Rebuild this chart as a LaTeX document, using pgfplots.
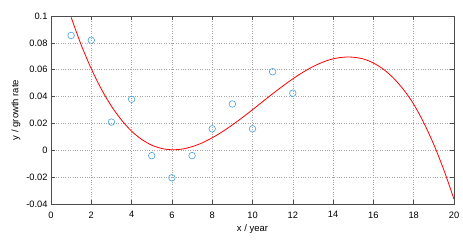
\documentclass[border=0pt]{standalone}
\usepackage{pgfplots}
\pgfplotsset{compat=1.18}
\usepackage{fontspec}
\setmainfont{Liberation Sans}
\definecolor{ptblue}{RGB}{70,160,220}
\begin{document}
\begin{tikzpicture}[x=1pt,y=1pt]
\path[use as bounding box] (-51,-38) rectangle (412,204);
\begin{axis}[
  at={(0,0)}, anchor=south west,
  scale only axis, width=403pt, height=188pt,
  xmin=0, xmax=20, ymin=-0.04, ymax=0.1,
  xtick={0,2,...,20},
  ytick={-0.04,-0.02,0,0.02,0.04,0.06,0.08,0.1},
  yticklabels={-0.04,-0.02,0,0.02,0.04,0.06,0.08,0.1},
  xticklabels={0,2,4,6,8,10,12,14,16,18,20},
  tick align=inside,
  major tick length=4pt,
  tick style={black!70, line width=0.5pt},
  axis line style={black!70, line width=0.6pt},
  grid=major,
  major grid style={gray!70, dotted, line width=0.5pt},
  ticklabel style={font=\fontsize{9.3}{10}\selectfont},
  xticklabel style={yshift=-4pt},
  label style={font=\fontsize{9.5}{11}\selectfont},
  xlabel={x / year},
  ylabel={y / growth rate},
  xlabel style={yshift=0pt},
  ylabel style={yshift=-1pt},
  scaled y ticks=false,
  clip=false,
]
\addplot[only marks, mark=o, mark size=3.3pt, ptblue, mark options={line width=0.6pt}]
coordinates {
(1,0.0855) (2,0.082) (3,0.021) (4,0.038) (5,-0.004) (6,-0.0205)
(7,-0.004) (8,0.016) (9,0.0345) (10,0.016) (11,0.0585) (12,0.0425)
};
\addplot[red, line width=0.8pt, smooth] coordinates {
(1,0.0990) (1.5,0.0784) (2,0.0607) (2.5,0.0455) (3,0.0328) (3.5,0.0225)
(4,0.0142) (4.5,0.0081) (5,0.0038) (5.5,0.0013) (6,0.0004) (6.5,0.0009)
(7,0.0027) (7.5,0.0055) (8,0.0093) (8.5,0.0138) (9,0.0189) (9.5,0.0244)
(10,0.0302) (10.5,0.0362) (11,0.0421) (11.5,0.0478) (12,0.0532) (12.5,0.0581)
(13,0.0623) (13.5,0.0657) (14,0.0681) (14.5,0.0693) (15,0.0693) (15.5,0.0680)
(16,0.0650) (16.5,0.0603) (17,0.0537) (17.5,0.0451) (18,0.0343) (18.5,0.0205)
(19,0.0042) (19.5,-0.0148) (20,-0.0364)
};
\end{axis}
\end{tikzpicture}
\end{document}
